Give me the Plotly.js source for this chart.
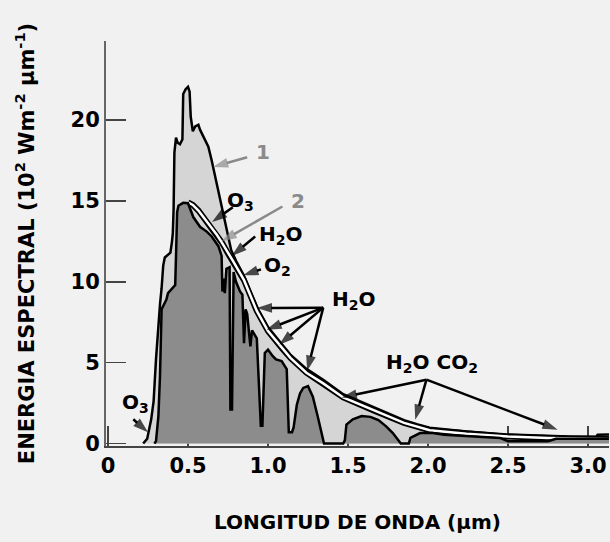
<!DOCTYPE html>
<html>
<head>
<meta charset="utf-8">
<script src="https://cdn.plot.ly/plotly-3.0.1.min.js"></script>
<style>
html,body{margin:0;padding:0;background:#f1f1f1;}
#chart{width:610px;height:542px;}
</style>
</head>
<body>
<div id="chart"></div>
<script>
// Curve 1: extraterrestrial solar spectrum (top of atmosphere)
const wavelength1 = [0.22,0.245,0.27,0.285,0.30,0.315,0.325,0.335,0.345,0.355,0.39,0.40,0.405,0.41,0.415,0.425,0.435,0.45,0.465,0.47,0.485,0.50,0.51,0.517,0.53,0.545,0.565,0.575,0.605,0.627,0.648,0.67,0.69,0.73,0.77,0.80,0.846,0.93,1.0,1.086,1.14,1.24,1.345,1.47,1.66,1.72,1.85,1.93,2.01,2.24,2.49,2.74,2.87,3.05,3.06,3.14];
const energy1 = [0,0.3,1.5,2.6,5.2,7.5,8.6,9.6,11.0,11.5,11.8,12.5,13.0,14.5,18.0,18.9,18.6,18.5,18.8,21.6,21.9,22.05,21.75,20.2,19.3,19.6,19.7,19.4,18.8,18.35,17.5,16.5,15.5,13.8,11.95,11.3,10.45,8.45,7.2,6.15,5.5,4.62,3.95,3.05,2.25,1.95,1.45,1.2,0.98,0.74,0.56,0.48,0.43,0.42,0.55,0.56];

// Curve 2: black body reference curve
const wavelength2 = [0.50,0.53,0.565,0.60,0.64,0.68,0.71,0.75,0.78,0.85,0.93,1.0,1.09,1.14,1.24,1.345,1.47,1.66,1.85,2.01,2.24,2.5,2.75,3.0,3.14];
const energy2 = [14.9,14.75,14.4,13.95,13.45,12.9,12.45,11.75,11.3,10.1,8.2,6.95,5.85,5.3,4.38,3.72,2.85,2.05,1.28,0.82,0.6,0.43,0.34,0.3,0.28];

// Surface spectrum (with absorption bands)
const wavelengthS = [0.29,0.30,0.315,0.325,0.335,0.35,0.365,0.375,0.40,0.42,0.425,0.432,0.44,0.47,0.50,0.52,0.533,0.575,0.617,0.648,0.69,0.71,0.715,0.725,0.73,0.74,0.76,0.765,0.775,0.785,0.80,0.825,0.84,0.85,0.86,0.87,0.89,0.90,0.91,0.93,0.955,0.965,0.98,1.0,1.03,1.05,1.085,1.117,1.13,1.15,1.16,1.18,1.20,1.22,1.25,1.28,1.31,1.345,1.35,1.47,1.48,1.49,1.53,1.585,1.64,1.69,1.74,1.78,1.81,1.83,1.88,1.89,1.95,2.03,2.1,2.3,2.45,2.5,2.75,2.8,3.14];
const energyS = [0,0.15,1.7,4.2,8.3,8.6,8.9,9.3,9.6,9.8,11.6,14.3,14.7,14.88,14.85,14.4,14.0,13.4,13.1,12.8,12.2,11.6,9.4,10.2,9.3,10.8,10.9,2.1,2.1,10.6,10.0,9.4,9.2,6.2,8.3,8.0,6.0,7.0,6.8,6.5,1.1,1.1,5.6,5.8,5.4,5.2,5.1,4.6,0.7,0.7,1.0,2.4,3.1,3.44,3.55,2.9,1.7,0.2,0,0,0.2,1.17,1.5,1.7,1.65,1.45,1.05,0.65,0.25,0,0,0.35,0.65,0.65,0.55,0.45,0.35,0.15,0.15,0.3,0.3];

const xTickVals = [0,0.5,1.0,1.5,2.0,2.5,3.0];
const xTickText = ['0','0.5','1.0','1.5','2.0','2.5','3.0'];
const yTickVals = [0,5,10,15,20];
const yTickText = ['0','5','10','15','20'];

// arrows: [tail x, tail y, head x, head y]
function arrowTrace(list, color) {
  const xs = [], ys = [], sym = [], sz = [];
  list.forEach(a => {
    xs.push(a[0], a[2], null); ys.push(a[1], a[3], null);
    sym.push('circle', 'arrow', 'circle'); sz.push(0, 16, 0);
  });
  return {x:xs, y:ys, type:'scatter', mode:'lines+markers', connectgaps:false,
    line:{color:color, width:2.5}, hoverinfo:'skip',
    marker:{symbol:sym, size:sz, color:color, angleref:'previous', line:{width:0}}};
}
const grayArrows = arrowTrace([
  [0.87, 17.7, 0.656, 17.1],
  [1.09, 14.65, 0.71, 12.5]
], '#8a8a8a');
const blackArrows = arrowTrace([
  [0.78, 14.6, 0.65, 13.7],
  [0.92, 12.8, 0.773, 11.6],
  [0.956, 10.77, 0.845, 10.4],
  [1.345, 8.4, 0.93, 8.38], [1.345, 8.4, 0.99, 7.04],
  [1.345, 8.4, 1.07, 6.1], [1.345, 8.4, 1.245, 4.5],
  [1.99, 3.95, 1.46, 2.85], [1.99, 3.95, 1.92, 1.48], [1.99, 3.95, 2.81, 0.86],
  [0.158, 1.5, 0.25, 0.7]
], '#000');

const traces = [
  {x: wavelength1, y: energy1, type:'scatter', mode:'lines', fill:'tozeroy',
   fillcolor:'#d5d5d5', line:{color:'#000', width:2.5}, hoverinfo:'skip'},
  {x: wavelength2, y: energy2, type:'scatter', mode:'lines',
   line:{color:'#000', width:6}, hoverinfo:'skip'},
  {x: wavelength2, y: energy2, type:'scatter', mode:'lines',
   line:{color:'#ffffff', width:2.5}, hoverinfo:'skip'},
  {x: wavelengthS, y: energyS, type:'scatter', mode:'lines', fill:'tozeroy',
   fillcolor:'#8c8c8c', line:{color:'#000', width:2.5}, hoverinfo:'skip'},
  grayArrows, blackArrows
];

const F = 'DejaVu Sans, Verdana, sans-serif';
function label(x, y, text, color) {
  return {x:x, y:y, xref:'x', yref:'y', text:text, showarrow:false,
    font:{family:F, size:20, color:color||'#000', weight:'bold'}};
}
const gray = '#8a8a8a';
const annotations = [
  label(0.97, 18.0, '1', gray),
  label(1.19, 15.0, '2', gray),
  label(0.83, 15.0, 'O<sub>3</sub>'),
  label(1.08, 12.9, 'H<sub>2</sub>O'),
  label(1.06, 11.0, 'O<sub>2</sub>'),
  label(1.54, 8.9, 'H<sub>2</sub>O'),
  label(2.025, 5.0, 'H<sub>2</sub>O CO<sub>2</sub>'),
  label(0.17, 2.5, 'O<sub>3</sub>')
];

const layout = {
  width:610, height:542,
  paper_bgcolor:'#f1f1f1', plot_bgcolor:'#f1f1f1',
  margin:{l:106, r:1, t:41, b:96},
  showlegend:false,
  font:{family:F, color:'#000'},
  xaxis:{range:[-0.0125, 3.131], tickvals:xTickVals, ticktext:xTickText,
    ticks:'inside', ticklen:20, tickwidth:1.5, tickcolor:'#444',
    showline:true, linecolor:'#444', linewidth:2, showgrid:false, zeroline:false,
    layer:'below traces',
    tickfont:{family:F, size:21, color:'#000', weight:'bold'},
    title:{text:'LONGITUD DE ONDA (µm)', font:{family:F, size:20, color:'#000', weight:'bold'}, standoff:38}},
  yaxis:{range:[-0.15, 24.88], tickvals:yTickVals, ticktext:yTickText,
    ticks:'inside', ticklen:20, tickwidth:1.5, tickcolor:'#444',
    showline:true, linecolor:'#666', linewidth:2, showgrid:false, zeroline:false,
    layer:'below traces',
    tickfont:{family:F, size:21, color:'#000', weight:'bold'},
    title:{text:'ENERGIA ESPECTRAL (10<sup>2</sup> Wm<sup>-2</sup> µm<sup>-1</sup>)', font:{family:F, size:21, color:'#000', weight:'bold'}, standoff:30}},
  annotations: annotations
};

Plotly.newPlot('chart', traces, layout, {staticPlot:true, displayModeBar:false});
</script>
</body>
</html>
